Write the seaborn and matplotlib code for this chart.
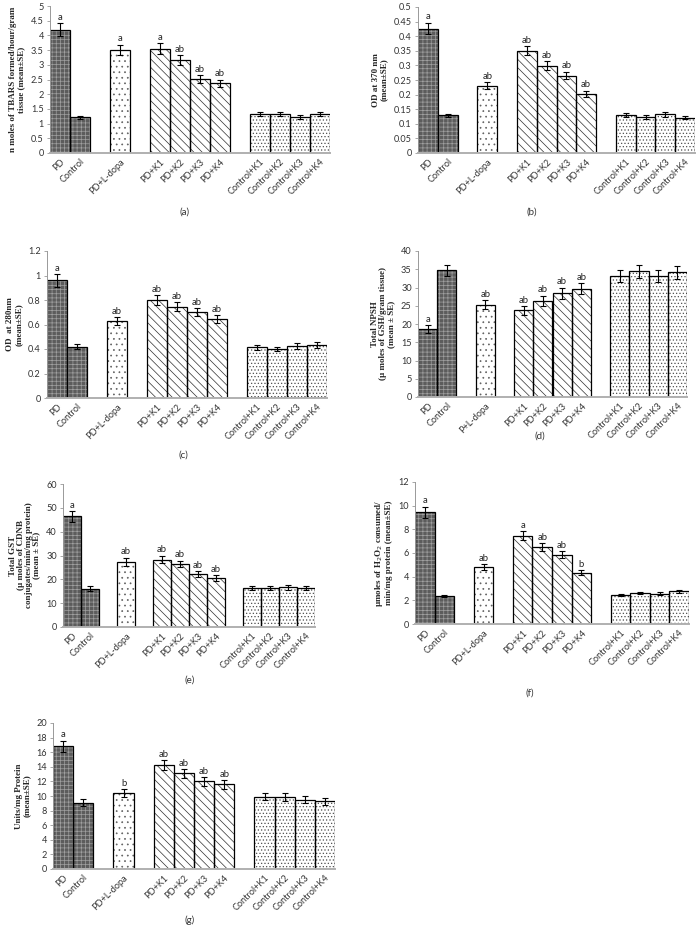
import numpy as np
import pandas as pd
import seaborn as sns
import matplotlib.pyplot as plt
from matplotlib.ticker import FuncFormatter

groups = ['PD', 'Control', 'PD+L-dopa', 'PD+K1', 'PD+K2', 'PD+K3', 'PD+K4',
          'Control+K1', 'Control+K2', 'Control+K3', 'Control+K4']
# blank slots keep the gaps between the treatment groups
order = ['PD', 'Control', ' ', 'PD+L-dopa', '  ', 'PD+K1', 'PD+K2', 'PD+K3', 'PD+K4', '   ',
         'Control+K1', 'Control+K2', 'Control+K3', 'Control+K4']
ticklabels = order
ticklabels_d = ['PD', 'Control', ' ', 'P+L-dopa', '  ', 'PD+K1', 'PD+K2', 'PD+K3', 'PD+K4', '   ',
                'Control+K1', 'Control+K2', 'Control+K3', 'Control+K4']

# (a) TBARS
tbars_mean = [4.2, 1.21, 3.51, 3.55, 3.16, 2.52, 2.38, 1.33, 1.34, 1.21, 1.34]
tbars_se = [0.22, 0.06, 0.18, 0.18, 0.16, 0.13, 0.12, 0.07, 0.07, 0.07, 0.07]
tbars_sig = ['a', '', 'a', 'a', 'ab', 'ab', 'ab', '', '', '', '']

# (b) OD 370
od370_mean = [0.426, 0.129, 0.231, 0.35, 0.299, 0.265, 0.203, 0.13, 0.124, 0.132, 0.121]
od370_se = [0.02, 0.006, 0.012, 0.016, 0.015, 0.013, 0.01, 0.007, 0.007, 0.007, 0.006]
od370_sig = ['a', '', 'ab', 'ab', 'ab', 'ab', 'ab', '', '', '', '']

# (c) OD 280
od280_mean = [0.96, 0.42, 0.63, 0.80, 0.745, 0.70, 0.643, 0.413, 0.40, 0.425, 0.432]
od280_se = [0.05, 0.02, 0.03, 0.04, 0.035, 0.033, 0.032, 0.02, 0.02, 0.022, 0.022]
od280_sig = ['a', '', 'ab', 'ab', 'ab', 'ab', 'ab', '', '', '', '']

# (d) total NPSH
npsh_mean = [18.6, 34.7, 25.3, 23.7, 26.4, 28.4, 29.7, 33.2, 34.5, 33.2, 34.2]
npsh_se = [1.0, 1.6, 1.3, 1.2, 1.4, 1.5, 1.5, 1.7, 1.8, 1.7, 1.8]
npsh_sig = ['a', '', 'ab', 'ab', 'ab', 'ab', 'ab', '', '', '', '']

# (e) total GST
gst_mean = [46.4, 16.1, 27.4, 28.3, 26.5, 22.3, 20.6, 16.5, 16.3, 16.6, 16.4]
gst_se = [2.2, 0.9, 1.6, 1.6, 1.4, 1.2, 1.1, 0.9, 0.9, 0.9, 0.8]
gst_sig = ['a', '', 'ab', 'ab', 'ab', 'ab', 'ab', '', '', '', '']

# (f) catalase
cat_mean = [9.45, 2.39, 4.82, 7.45, 6.5, 5.86, 4.32, 2.44, 2.62, 2.57, 2.75]
cat_se = [0.45, 0.1, 0.25, 0.38, 0.32, 0.3, 0.22, 0.1, 0.11, 0.1, 0.12]
cat_sig = ['a', '', 'ab', 'a', 'ab', 'ab', 'b', '', '', '', '']

# (g) SOD
sod_mean = [16.8, 9.1, 10.4, 14.2, 13.1, 12.0, 11.6, 9.9, 9.85, 9.5, 9.25]
sod_se = [0.8, 0.5, 0.5, 0.7, 0.6, 0.6, 0.6, 0.5, 0.5, 0.5, 0.5]
sod_sig = ['a', '', 'b', 'ab', 'ab', 'ab', 'ab', '', '', '', '']

# face colour, hatch, hatch colour
dark = ('#5c5c5c', '++++', '#a0a0a0')
dotted = ('white', '...', '#606060')
wavy = ('white', '\\\\\\\\', '#303030')
fine = ('white', '.....', '#505050')
styles = {'PD': dark, 'Control': dark, 'PD+L-dopa': dotted,
          'PD+K1': wavy, 'PD+K2': wavy, 'PD+K3': wavy, 'PD+K4': wavy,
          'Control+K1': fine, 'Control+K2': fine, 'Control+K3': fine, 'Control+K4': fine}

sns.set_style('white')
plt.rcParams['font.family'] = ['Lato', 'DejaVu Sans']
plt.rcParams['hatch.linewidth'] = 0.5

W, H = 697, 926
fig = plt.figure(figsize=(W / 100, H / 100), dpi=100)


def panel(box, mean, se, sig, ylabel, ymax, step, labels=ticklabels):
    l, r, t, b = box
    ax = fig.add_axes([l / W, 1 - b / H, (r - l) / W, (b - t) / H])
    df = pd.DataFrame({'group': groups, 'value': mean})
    # fill + pattern first (hatch takes the edge colour), black outline on top
    sns.barplot(data=df, x='group', y='value', order=order, width=1, errorbar=None,
                color='white', linewidth=0, ax=ax)
    for bar in ax.patches:
        idx = int(round(bar.get_x() + bar.get_width() / 2))
        face, hatch, hcol = styles[order[idx]]
        bar.set_facecolor(face)
        bar.set_edgecolor(hcol)
        bar.set_hatch(hatch)
    sns.barplot(data=df, x='group', y='value', order=order, width=1, errorbar=None,
                fill=False, edgecolor='black', linewidth=0.9, ax=ax)
    xpos = [order.index(g) for g in groups]
    ax.errorbar(xpos, mean, yerr=se, fmt='none', ecolor='black', elinewidth=0.8,
                capsize=2, capthick=0.8)
    for x, m, s, txt in zip(xpos, mean, se, sig):
        if txt:
            ax.annotate(txt, (x, m + s), xytext=(0, 1), textcoords='offset points',
                        ha='center', va='bottom', fontsize=6.8, color='#222222')
    ax.set_xlim(-0.5, len(order) - 0.5)
    ax.set_ylim(0, ymax)
    ax.set_yticks(np.arange(0, ymax + step / 2, step))
    ax.yaxis.set_major_formatter(FuncFormatter(lambda v, p: f'{v:g}'))
    ax.set_xticks(range(len(order)))
    ax.set_xticklabels(labels, rotation=45, ha='right', rotation_mode='anchor')
    ax.set_xticks(np.arange(-0.5, len(order), 1), minor=True)
    ax.tick_params(axis='x', which='major', length=0, labelsize=6.6, pad=3, colors='#333333')
    ax.tick_params(axis='x', which='minor', length=3, color='#aaaaaa', width=0.6)
    ax.tick_params(axis='y', length=2.5, width=0.6, color='#999999', labelsize=6.6,
                   pad=2, labelcolor='#333333', left=True)
    ax.set_xlabel('')
    ax.set_ylabel(ylabel, family=['Liberation Serif'], fontweight='bold', fontsize=6.5,
                  labelpad=4, linespacing=1.0)
    sns.despine(ax=ax)
    ax.spines['left'].set_color('#999999')
    ax.spines['left'].set_linewidth(0.7)
    ax.spines['bottom'].set_color('#b0b0b0')
    ax.spines['bottom'].set_linewidth(1.4)
    return ax


panel((50, 330, 6, 153), tbars_mean, tbars_se, tbars_sig,
      'n moles of TBARS formed/hour/gram\ntissue (mean\u00b1SE)', 5, 0.5)
panel((418, 695, 7, 153), od370_mean, od370_se, od370_sig,
      'OD at 370 nm\n(mean\u00b1SE)', 0.5, 0.05)
panel((47, 327, 251, 398), od280_mean, od280_se, od280_sig,
      'OD  at 280nm\n(mean\u00b1SE)', 1.2, 0.2)
panel((418, 687, 251, 397), npsh_mean, npsh_se, npsh_sig,
      'Total NPSH\n(\u00b5 moles of GSH/gram tissue)\n(mean \u00b1 SE)', 40, 5, ticklabels_d)
panel((63, 315, 484, 627), gst_mean, gst_se, gst_sig,
      'Total GST\n(\u00b5 moles of CDNB\nconjugates/min/mg protein)\n(mean \u00b1 SE)', 60, 10)
panel((415, 689, 482, 624), cat_mean, cat_se, cat_sig,
      '\u00b5moles of H$_2$O$_2$ consumed/\nmin/mg protein (mean\u00b1SE)', 12, 2)
panel((53, 335, 723, 869), sod_mean, sod_se, sod_sig,
      'Units/mg Protein\n(mean\u00b1SE)', 20, 2)

for lab, x, y in [('(a)', 185, 212), ('(b)', 532, 212), ('(c)', 183, 455), ('(d)', 540, 436),
                  ('(e)', 190, 680), ('(f)', 530, 693), ('(g)', 190, 920)]:
    fig.text(x / W, 1 - y / H, lab, ha='center', va='center', fontsize=7, color='#333333')

fig.savefig('out.png', dpi=100)
